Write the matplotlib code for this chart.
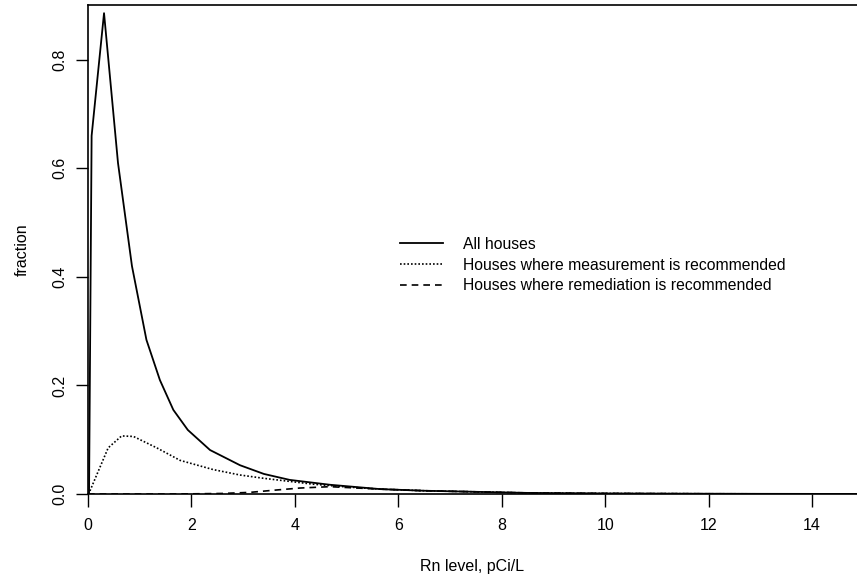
import numpy as np
import matplotlib
matplotlib.use("Agg")
import matplotlib.pyplot as plt

plt.rcParams["font.family"] = ["Liberation Sans", "DejaVu Sans"]

# values
rn_all = [0.0, 0.02, 0.07, 0.31, 0.58, 0.85, 1.13, 1.39, 1.65, 1.93, 2.36, 2.94,
          3.4, 3.9, 4.68, 5.65, 6.5, 7.5, 8.5, 10.0, 11.5, 13.0, 14.9]
frac_all = [0.0, 0.0, 0.66, 0.886, 0.61, 0.42, 0.284, 0.21, 0.155, 0.118, 0.081, 0.053,
            0.037, 0.026, 0.017, 0.009, 0.006, 0.004, 0.002, 0.001, 0.0006, 0.0003, 0.0001]

rn_meas = [0.0, 0.03, 0.39, 0.65, 0.88, 1.33, 1.78, 2.42, 2.94, 3.39, 4.36, 5.0,
           5.65, 6.5, 7.5, 8.5, 10.0, 12.0, 14.9]
frac_meas = [0.0, 0.004, 0.085, 0.107, 0.106, 0.085, 0.062, 0.045, 0.035, 0.029, 0.018, 0.013,
             0.009, 0.006, 0.004, 0.002, 0.001, 0.0004, 0.0001]

rn_rem = [0.0, 1.5, 2.0, 2.6, 3.13, 3.6, 4.1, 4.68, 5.2, 5.65, 6.5, 7.5, 8.5,
          10.0, 12.0, 14.9]
frac_rem = [0.0, 0.0, 0.0003, 0.001, 0.003, 0.007, 0.011, 0.0135, 0.011, 0.009, 0.006,
            0.004, 0.002, 0.001, 0.0004, 0.0001]

labels = ["All houses",
          "Houses where measurement is recommended",
          "Houses where remediation is recommended"]

fig = plt.figure(figsize=(8.57, 5.75), dpi=100)
ax = fig.add_axes([88 / 857, 1 - 494 / 575, 1 - 88 / 857, (494 - 5) / 575])

ax.plot(rn_all, frac_all, color="black", lw=1.3, ls="-", label=labels[0])
ax.plot(rn_meas, frac_meas, color="black", lw=1.2, ls=(0, (1, 1.2)), label=labels[1])
ax.plot(rn_rem, frac_rem, color="black", lw=1.2, ls=(0, (4, 3)), label=labels[2])

ax.set_xlim(0, 14.87)
ax.set_ylim(0, 0.901)
ax.set_xticks([0, 2, 4, 6, 8, 10, 12, 14])
ax.set_yticks([0.0, 0.2, 0.4, 0.6, 0.8])
ax.set_yticklabels(["0.0", "0.2", "0.4", "0.6", "0.8"], rotation=90, va="center")
ax.tick_params(direction="out", length=9, width=1, labelsize=11.5, pad=8)
ax.tick_params(axis="y", pad=6)
ax.spines["right"].set_visible(False)
for s in ["left", "top", "bottom"]:
    ax.spines[s].set_linewidth(1.2)

ax.set_xlabel("Rn level, pCi/L", fontsize=11.5, labelpad=19)
ax.set_ylabel("fraction", fontsize=11.5, labelpad=16)

leg = ax.legend(loc="upper left", bbox_to_anchor=(0.395, 0.542), frameon=False,
                fontsize=11.3, handlelength=2.75, handletextpad=1.3,
                labelspacing=0.37, borderpad=0)

fig.savefig("out.png", dpi=100)
